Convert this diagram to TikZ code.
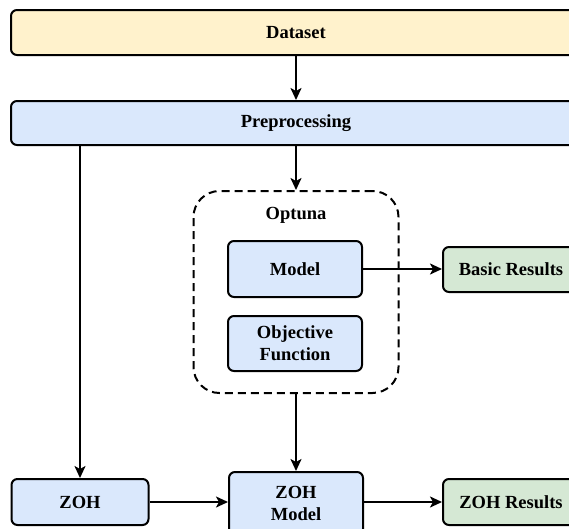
\documentclass[tikz,border=0pt]{standalone}
\usepackage{fontspec}
\setmainfont{Liberation Serif}
\usetikzlibrary{arrows.meta}
\definecolor{yel}{HTML}{FFF2CC}
\definecolor{blu}{HTML}{DAE8FC}
\definecolor{grn}{HTML}{D5E8D4}
\tikzset{
  txt/.style={font=\fontsize{18.5}{22}\selectfont\bfseries},
  box/.style={draw=black, line width=2pt, rounded corners=6pt, align=center,
    txt, inner sep=0pt},
  conn/.style={line width=2pt, -{Stealth[length=12pt,width=11pt,inset=3pt]}},
}
\begin{document}
\begin{tikzpicture}[x=1pt,y=-1pt]
\clip (0,0) rectangle (569,528);
\useasboundingbox (0,0) rectangle (569,528);
\node[box, fill=yel, minimum width=570pt, minimum height=45pt] (dataset) at (296,32.5) {Dataset};
\node[box, fill=blu, minimum width=570pt, minimum height=44pt] (prep) at (296,123) {Preprocessing};
\node[draw=black, line width=2pt, dash pattern=on 8pt off 5pt, rounded corners=26pt,
  minimum width=205pt, minimum height=202pt, inner sep=0pt] (optuna) at (296,292) {};
\node[txt] (optlabel) at (296,215) {Optuna};
\node[box, fill=blu, minimum width=134pt, minimum height=56pt] (model) at (295,269) {Model};
\node[box, fill=blu, minimum width=134pt, minimum height=55pt] (objf) at (295,343.5) {Objective\\Function};
\node[box, fill=grn, minimum width=136pt, minimum height=45pt] (basic) at (511,269.5) {Basic Results};
\node[box, fill=blu, minimum width=137pt, minimum height=46pt] (zoh) at (80,502) {ZOH};
\node[box, fill=blu, minimum width=134pt, minimum height=63pt] (zohm) at (296,503.5) {ZOH\\Model};
\node[box, fill=grn, minimum width=136pt, minimum height=46pt] (zohr) at (511,502) {ZOH Results};
\draw[conn] (dataset.south) -- (prep.north);
\draw[conn] (optuna.north |- prep.south) -- (optuna.north);
\draw[conn] (zoh.north |- prep.south) -- (zoh.north);
\draw[conn] (model.east) -- (basic.west |- model.east);
\draw[conn] (optuna.south) -- (zohm.north);
\draw[conn] (zoh.east) -- (zohm.west |- zoh.east);
\draw[conn] (zohm.east |- zohr.west) -- (zohr.west);
\end{tikzpicture}
\end{document}
